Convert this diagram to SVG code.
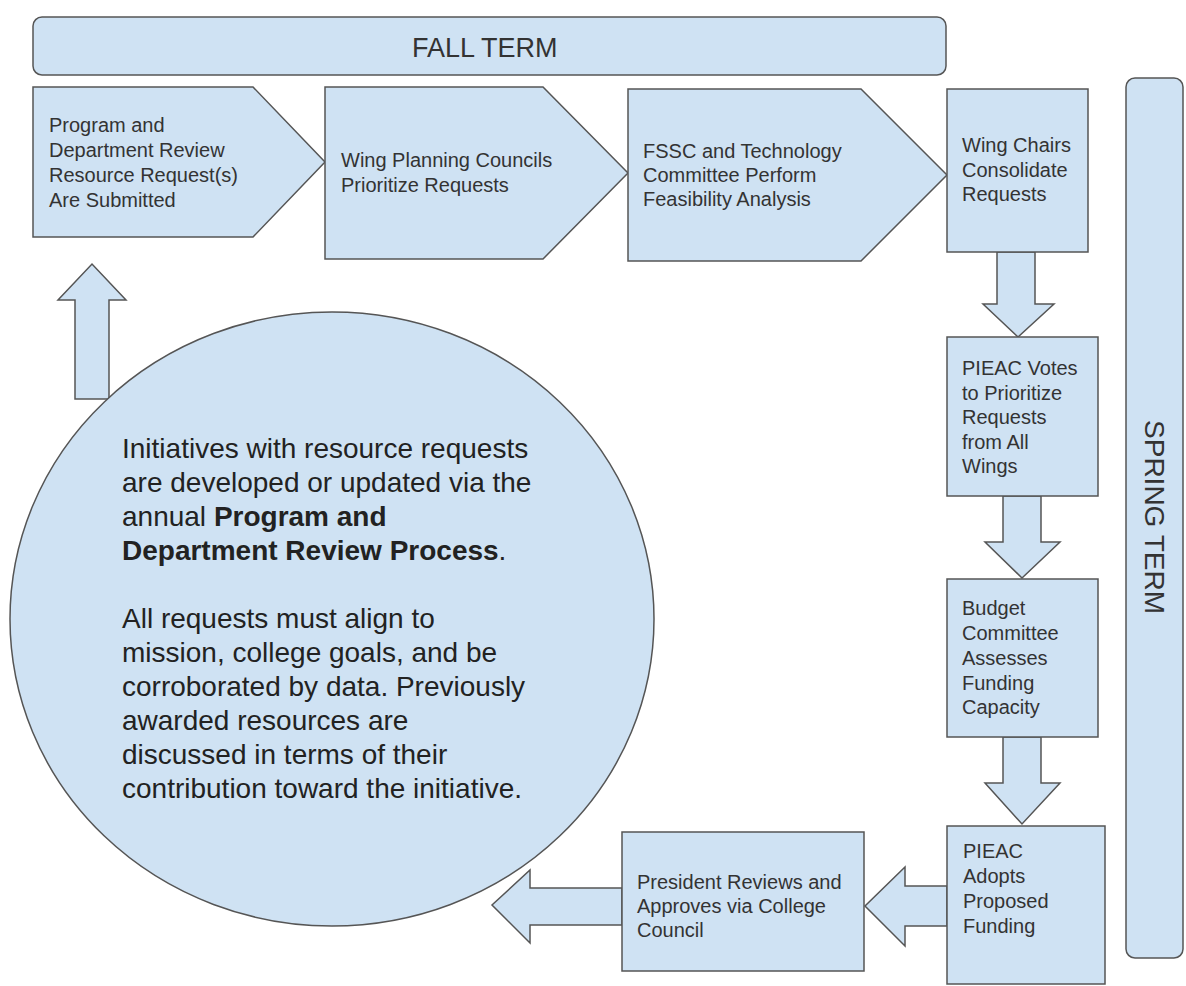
<svg xmlns="http://www.w3.org/2000/svg" width="1186" height="986" viewBox="0 0 1186 986">
<style>
.s{fill:#cfe2f3;stroke:#555;stroke-width:1.5;stroke-linejoin:miter}
.t{font-family:"Liberation Sans",Arial,sans-serif;font-size:20px;fill:#333}
.h{font-family:"Liberation Sans",Arial,sans-serif;font-size:27px;fill:#333}
.c{font-family:"Liberation Sans",Arial,sans-serif;font-size:28px;fill:#222}
.b{font-weight:bold}
</style>
<rect width="1186" height="986" fill="#fff"/>
<g id="fall-term">
<rect class="s" x="33" y="17" width="913" height="58" rx="9"/>
<text class="h" x="412" y="57">FALL TERM</text>
</g>
<g id="spring-term">
<rect class="s" x="1126" y="78" width="57" height="880" rx="9"/>
<text class="h" text-anchor="middle" transform="translate(1145,517) rotate(90)" style="font-size:28px">SPRING TERM</text>
</g>
<g id="connectors">
<polygon class="s" points="997,252 1035,252 1035,304 1054,304 1018,337 983,304 997,304"/>
<polygon class="s" points="1003,496 1041,496 1041,542 1060,542 1022,578 985,542 1003,542"/>
<polygon class="s" points="1003,737 1041,737 1041,783 1060,783 1022,824 985,783 1003,783"/>
<polygon class="s" points="947,886 905,886 905,867 865,906 905,946 905,926 947,926"/>
<polygon class="s" points="622,888 530,888 530,870 492,905 530,943 530,925 622,925"/>
<polygon class="s" points="75,399 75,300 58,300 92,264 126,300 109,300 109,399"/>
</g>
<g id="n1">
<path class="s" d="M33,87 L253,87 L325,162 L253,237 L33,237 Z"/>
<text class="t"><tspan x="49" y="132">Program and</tspan><tspan x="49" y="157">Department Review</tspan><tspan x="49" y="182">Resource Request(s)</tspan><tspan x="49" y="207">Are Submitted</tspan></text>
</g>
<g id="n2">
<path class="s" d="M325,87 L543,87 L628,173 L543,259 L325,259 Z"/>
<text class="t"><tspan x="341" y="167">Wing Planning Councils</tspan><tspan x="341" y="192">Prioritize Requests</tspan></text>
</g>
<g id="n3">
<path class="s" d="M628,89 L861,89 L947,175 L861,261 L628,261 Z"/>
<text class="t"><tspan x="643" y="158">FSSC and Technology</tspan><tspan x="643" y="182">Committee Perform</tspan><tspan x="643" y="206">Feasibility Analysis</tspan></text>
</g>
<g id="n4">
<rect class="s" x="947" y="89" width="141" height="163"/>
<text class="t"><tspan x="962" y="152">Wing Chairs</tspan><tspan x="962" y="177">Consolidate</tspan><tspan x="962" y="201">Requests</tspan></text>
</g>
<g id="n5">
<rect class="s" x="947" y="337" width="151" height="159"/>
<text class="t"><tspan x="962" y="375">PIEAC Votes</tspan><tspan x="962" y="400">to Prioritize</tspan><tspan x="962" y="424">Requests</tspan><tspan x="962" y="449">from All</tspan><tspan x="962" y="473">Wings</tspan></text>
</g>
<g id="n6">
<rect class="s" x="947" y="579" width="151" height="158"/>
<text class="t"><tspan x="962" y="615">Budget</tspan><tspan x="962" y="640">Committee</tspan><tspan x="962" y="665">Assesses</tspan><tspan x="962" y="690">Funding</tspan><tspan x="962" y="714">Capacity</tspan></text>
</g>
<g id="n7">
<rect class="s" x="947" y="826" width="158" height="158"/>
<text class="t"><tspan x="963" y="858">PIEAC</tspan><tspan x="963" y="883">Adopts</tspan><tspan x="963" y="908">Proposed</tspan><tspan x="963" y="933">Funding</tspan></text>
</g>
<g id="n8">
<rect class="s" x="622" y="832" width="242" height="139"/>
<text class="t"><tspan x="637" y="889">President Reviews and</tspan><tspan x="637" y="913">Approves via College</tspan><tspan x="637" y="937">Council</tspan></text>
</g>
<g id="circle">
<ellipse class="s" cx="332" cy="619" rx="322" ry="307"/>
<text class="c"><tspan x="122" y="458">Initiatives with resource requests</tspan><tspan x="122" y="492">are developed or updated via the</tspan><tspan x="122" y="526">annual <tspan class="b">Program and</tspan></tspan><tspan x="122" y="560"><tspan class="b">Department Review Process</tspan>.</tspan><tspan x="122" y="628">All requests must align to</tspan><tspan x="122" y="662">mission, college goals, and be</tspan><tspan x="122" y="696">corroborated by data. Previously</tspan><tspan x="122" y="730">awarded resources are</tspan><tspan x="122" y="764">discussed in terms of their</tspan><tspan x="122" y="798">contribution toward the initiative.</tspan></text>
</g>
</svg>
